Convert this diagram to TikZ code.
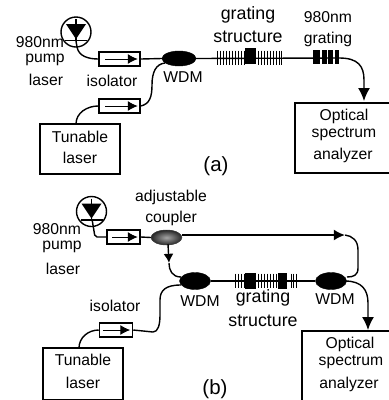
\documentclass[tikz,border=0pt]{standalone}
\usepackage{fontspec}
\setmainfont{Liberation Sans}
\usetikzlibrary{arrows.meta,calc,shapes.geometric}
\tikzset{>={Latex[length=13pt,width=12pt]},
  fiber/.style={line width=1.4pt,black},
  txt/.style={font=\fontsize{15.7}{18}\selectfont,inner sep=0pt,text=black},
  txtl/.style={font=\fontsize{17.8}{20}\selectfont,inner sep=0pt,text=black},
  capt/.style={font=\fontsize{20.5}{24}\selectfont,inner sep=0pt,text=black},
  boxn/.style={draw,line width=1.4pt,inner sep=0pt},
  isobox/.style={draw,line width=1.5pt,inner sep=0pt,minimum height=14pt},
  isoarrow/.style={line width=1pt,-{Latex[length=10pt,width=10pt]}},
  wdm/.style={ellipse,fill=black,draw=black,inner sep=0pt,minimum width=34pt,minimum height=15pt},
  pump/.style={circle,draw,line width=1.4pt,inner sep=0pt,minimum size=30pt},
  blk/.style={fill=black,inner sep=0pt,minimum width=5pt,minimum height=14pt},
  pt/.style={inner sep=0pt,minimum size=0pt}}
% one laser diode symbol at the centre of a pump node
\newcommand{\diode}[1]{
  \fill ($(#1)+(0,7)$) -- ($(#1)+(-10,-8)$) -- ($(#1)+(10,-8)$) -- cycle;
  \draw[line width=1.3pt] ($(#1)+(-11,8.5)$) -- ($(#1)+(11,8.5)$);
  \draw[line width=1.1pt] ($(#1)+(0,-13)$) -- ($(#1)+(0,8.5)$);
}
\begin{document}
\begin{tikzpicture}[x=1pt,y=-1pt]
\useasboundingbox (0,0) rectangle (389,400);
% (a)
\node[pump] (pumpA) at (76,32) {};
\diode{pumpA}
\node[isobox,minimum width=41pt] (isoA) at (119.5,59) {};
\node[isobox,minimum width=41pt] (isoB) at (119.5,106) {};
\node[wdm] (wdmA) at (179,58.5) {};
\node[boxn,minimum width=80pt,minimum height=50pt] (tunA) at (80,149) {};
\node[boxn,minimum width=95pt,minimum height=70pt] (osaA) at (342.5,138) {};
\node[pt] (grEndA) at (339,58) {};
\draw[isoarrow] ($(isoA.west)+(7,0)$) -- ($(isoA.east)+(-3,0)$);
\draw[isoarrow] ($(isoB.west)+(7,0)$) -- ($(isoB.east)+(-3,0)$);
\draw[fiber] (76,41) -- (77,47) to[out=-80,in=180] (isoA.west);
\draw[fiber] (isoA.east) -- (wdmA.west);
\draw[fiber] (76,124) to[out=90,in=180] (isoB.west);
\draw[fiber] (isoB.east) .. controls (150,104) and (152,96) .. (152,85) .. controls (152,72) and (156,64) .. (165,63);
\draw[fiber] (wdmA.east) -- (grEndA);
\draw[fiber,->] (grEndA) .. controls (358,58) and (364,66) .. (364,80) -- (364,101);
\foreach \x in {217,220,223,226,229,232,235,238,241,244,258,261,264,267,270,273,276,279,281}
  \draw[line width=1pt] (\x,50.5) -- (\x,64.5);
\node[blk,minimum width=11pt,minimum height=16pt] (blkA) at (250.5,56) {};
\foreach \x/\w in {316.5/7,324.5/5,330.5/5,337/4}
  \node[blk,minimum width=\w pt] at (\x,57) {};
\node[txt] (la1) at (40,42) {980nm};
\node[txt] (la2) at (45,60) {pump};
\node[txt] (la3) at (46,80) {laser};
\node[txt] (la4) at (112,81) {isolator};
\node[txt] (la5) at (183,77) {WDM};
\node[txtl] (la6) at (248,15) {grating};
\node[txtl] (la7) at (248,37) {structure};
\node[txt] (la8) at (328,17) {980nm};
\node[txt] (la9) at (328,39) {grating};
\node[txt] (la10) at (80,137) {Tunable};
\node[txt] (la11) at (80,158) {laser};
\node[txt] (la12) at (344,116) {Optical};
\node[txt] (la13) at (344,134) {spectrum};
\node[txt] (la14) at (343,155) {analyzer};
\node[capt] (capA) at (216,166) {(a)};
% (b)
\node[pump] (pumpB) at (91.5,211.5) {};
\diode{pumpB}
\node[isobox,minimum width=33pt] (isoC) at (123.5,237) {};
\node[isobox,minimum width=33pt] (isoD) at (116,330) {};
\node[wdm,minimum width=31pt,draw=black!70,inner color=black!35,outer color=black!85] (coup) at (166.5,237.5) {};
\node[wdm,minimum width=31pt,minimum height=17pt] (wdmB) at (195,281) {};
\node[wdm,minimum width=31pt,minimum height=17pt] (wdmC) at (331,281) {};
\node[boxn,minimum width=80pt,minimum height=52pt] (tunB) at (83,374) {};
\node[boxn,minimum width=90pt,minimum height=70pt] (osaB) at (347,366) {};
\node[pt] (tipU) at (345,235) {};
\node[pt] (tipD) at (169,263) {};
\draw[isoarrow] ($(isoC.west)+(6,0)$) -- ($(isoC.east)+(-3,0)$);
\draw[isoarrow] ($(isoD.west)+(4,0)$) -- ($(isoD.east)+(-3,0)$);
\draw[fiber,rounded corners=2pt] (92,219) -- (95,237) -- (isoC.west);
\draw[fiber] (isoC.east) -- (coup.west);
\draw[fiber,-{Latex[length=11pt,width=11pt]}] (coup.east |- tipU) -- (tipU);
\draw[fiber] (tipU) .. controls (352,236) and (358,240) .. (358,250) -- (358,268) .. controls (358,275) and (354,277) .. (347,277);
\draw[fiber,-{Latex[length=9pt,width=10pt]}] (168,244) -- (tipD);
\draw[fiber] (tipD) .. controls (169,270) and (172,277) .. (181,277);
\draw[fiber] (79,348) to[out=90,in=180] (isoD.west);
\draw[fiber] (isoD.east) -- (153,332) .. controls (158,332) and (160,325) .. (160,315) -- (160,300) .. controls (160,290) and (166,285) .. (181,285);
\draw[fiber] (wdmB.east) -- (wdmC.west);
\draw[fiber,->] (345,281) .. controls (362,281) and (368,290) .. (368,303) -- (368,330);
\foreach \x in {235,238,241,244,258,261,264,267,270,273,276,279,291,293,296}
  \draw[line width=1pt] (\x,273.5) -- (\x,288);
\node[blk,minimum width=11pt,minimum height=16pt] (blkB) at (250.5,281) {};
\node[blk,minimum width=9pt,minimum height=16pt] (blkC) at (282.5,281) {};
\node[txt] (lb1) at (57,229) {980nm};
\node[txt] (lb2) at (62,247) {pump};
\node[txt] (lb3) at (63,269) {laser};
\node[txt] (lb4) at (171,197) {adjustable};
\node[txt] (lb5) at (171,218) {coupler};
\node[txt] (lb6) at (115,306) {isolator};
\node[txt] (lb7) at (200,301) {WDM};
\node[txt] (lb8) at (335,299) {WDM};
\node[txtl] (lb9) at (263,298) {grating};
\node[txtl] (lb10) at (263,321) {structure};
\node[txt] (lb11) at (83,360) {Tunable};
\node[txt] (lb12) at (83,383) {laser};
\node[txt] (lb13) at (350,344) {Optical};
\node[txt] (lb14) at (351,362) {spectrum};
\node[txt] (lb15) at (349,384) {analyzer};
\node[capt] (capB) at (215,389) {(b)};
\end{tikzpicture}
\end{document}
